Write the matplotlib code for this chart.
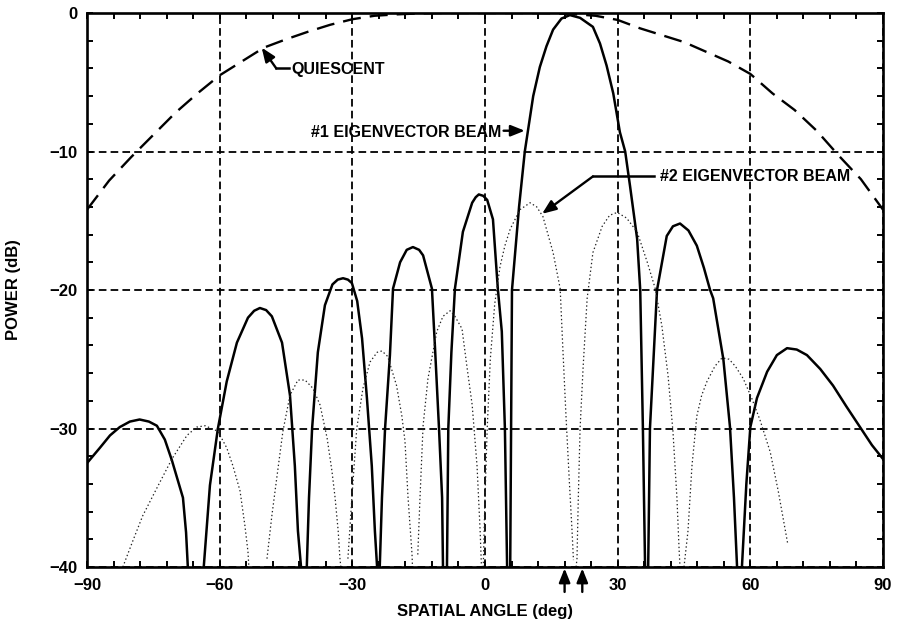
"""Adapted array power patterns: quiescent and eigenvector beams."""

import matplotlib

matplotlib.use("Agg")

import matplotlib.pyplot as plt
import numpy as np

NAN = float("nan")

# quiescent pattern (dashed)
QUIET_ANGLE = [-90, -85, -80, -75, -70, -65, -60, -55, -50, -45, -40, -35, -30, -25,
               -20, -15, -10, -5, 0, 5, 10, 15, 20, 25, 30, 35, 40, 45, 50, 55, 60,
               65, 70, 75, 80, 85, 90]
QUIET_DB = [-14.2, -12.1, -10.4, -8.8, -7.2, -5.8, -4.5, -3.5, -2.5, -1.9, -1.35, -0.85,
            -0.45, -0.2, -0.1, -0.03, 0.0, 0.0, 0.0, 0.0, 0.0, -0.02, -0.08, -0.2, -0.5,
            -1.1, -1.6, -2.1, -2.8, -3.5, -4.4, -5.8, -7.0, -8.5, -10.3, -12.0, -14.2]

# #1 eigenvector beam (solid), lobes separated by NaN
BEAM1_ANGLE = [
    -90, -87.1, -84.8, -82.6, -80.3, -78.1, -76.0, -74.2, -72.4, -70.8, -69.4, -68.3, -67.6, -67.2, NAN,
    -63.6, -62.2, -60.4, -58.4, -56.1, -53.6, -52.2, -50.9, -49.5, -48.2, -45.9, -44.1, -43.0, -42.3, -41.6, NAN,
    -40.3, -39.8, -39.1, -37.8, -36.2, -34.5, -33.3, -32.1, -31.0, -30.1, -28.9, -27.8, -26.7, -25.6, -24.9,
    -24.4, NAN,
    -23.8, -23.3, -22.6, -21.5, -20.8, -19.2, -17.7, -16.3, -14.9, -14.0, -12.0, -11.3, -10.4, -9.7, -9.5, NAN,
    -8.6, -8.3, -7.6, -6.8, -5.0, -2.9, -2.1, -1.4, -0.4, 0.5, 1.8, 2.9, 3.8, 4.5, 5.0, NAN,
    5.7, 5.9, 6.1, 7.7, 9.0, 10.9, 12.4, 13.9, 15.4, 17.3, 19.2, 21.5, 24.4, 26.0, 27.5, 29.0, 30.5, 31.7,
    32.8, 34.4, 35.1, 35.7, 36.2, NAN,
    36.9, 37.3, 38.9, 41.1, 42.5, 44.1, 46.0, 47.9, 49.5, 50.9, 51.6, 53.9, 55.4, 56.3, 57.0, NAN,
    58.1, 59.1, 60.0, 61.5, 63.8, 66.0, 68.3, 70.5, 72.8, 75.8, 78.7, 81.7, 84.8, 87.5, 90,
]
BEAM1_DB = [
    -32.5, -31.4, -30.5, -29.9, -29.5, -29.35, -29.5, -29.8, -30.8, -32.3, -33.8, -35.0, -37.5, -40, NAN,
    -40, -34.1, -30.0, -26.6, -23.8, -22.0, -21.5, -21.3, -21.45, -21.9, -23.8, -27.6, -32.7, -37.4, -40, NAN,
    -40, -35.0, -30.0, -24.5, -21.1, -19.6, -19.25, -19.15, -19.25, -19.5, -20.8, -23.5, -27.8, -32.7, -37.4,
    -40, NAN,
    -40, -35.0, -30.0, -24.7, -19.9, -18.0, -17.1, -16.9, -17.1, -17.5, -19.9, -24.2, -30.0, -35.0, -40, NAN,
    -40, -30.0, -24.5, -19.9, -15.8, -13.7, -13.3, -13.1, -13.2, -13.5, -14.9, -19.9, -23.0, -30.0, -40, NAN,
    -40, -30.0, -20.0, -14.0, -10.0, -6.0, -3.9, -2.4, -1.2, -0.4, -0.15, -0.35, -1.0, -2.2, -3.8, -5.8, -8.6,
    -10.0, -12.5, -16.3, -20.0, -29.9, -40, NAN,
    -40, -30.0, -20.0, -16.1, -15.4, -15.2, -15.7, -16.8, -18.4, -20.0, -20.6, -25.0, -29.9, -35.0, -40, NAN,
    -40, -34.0, -29.9, -27.8, -25.9, -24.7, -24.2, -24.3, -24.7, -25.7, -26.9, -28.4, -29.9, -31.2, -32.2,
]

# #2 eigenvector beam (dotted)
BEAM2_ANGLE = [
    -81.9, -79.5, -77.4, -74.2, -70.8, -67.4, -65.2, -63.3, -60.4, -58.4, -57.0, -55.4, -54.3, -53.6, -53.4, NAN,
    -49.3, -48.2, -47.1, -45.7, -44.1, -42.3, -40.7, -38.9, -37.3, -35.7, -34.6, -33.9, -33.2, -32.8, -32.6, NAN,
    -31.0, -30.1, -29.0, -27.6, -26.0, -24.4, -23.3, -22.0, -20.0, -18.8, -18.1, -17.4, -16.5, -16.4, NAN,
    -15.2, -14.7, -14.0, -12.9, -10.9, -9.5, -7.9, -6.8, -5.2, -4.1, -2.9, -1.8, -1.1, -0.8, NAN,
    -0.4, 0.0, 0.5, 1.2, 2.2, 3.4, 4.5, 5.7, 7.9, 10.2, 11.7, 13.1, 15.4, 17.0, 17.6, 18.3, 19.1, 19.7, 20.0, NAN,
    20.6, 20.8, 21.1, 21.5, 22.2, 23.1, 24.4, 26.5, 28.2, 29.9, 32.0, 34.4, 36.7, 38.5, 40.0, 41.4, 42.5,
    43.4, 43.9, 44.1, NAN,
    45.0, 45.9, 46.8, 47.9, 49.0, 50.2, 52.0, 53.6, 55.2, 56.6, 58.4, 60.3, 62.2, 64.5, 66.3, 68.5,
]
BEAM2_DB = [
    -40, -38.0, -36.3, -34.3, -32.2, -30.5, -29.9, -29.8, -30.2, -31.4, -32.7, -34.5, -37.0, -38.9, -40, NAN,
    -39.4, -36.3, -33.6, -30.2, -27.6, -26.5, -26.5, -27.1, -28.3, -30.7, -33.1, -35.0, -37.4, -39.4, -40, NAN,
    -39.4, -35.0, -30.0, -27.1, -25.2, -24.5, -24.4, -24.8, -26.9, -29.1, -30.9, -35.0, -39.1, -40, NAN,
    -39.1, -35.0, -29.8, -26.4, -23.0, -21.9, -21.5, -21.9, -22.8, -25.5, -28.3, -32.7, -37.4, -40, NAN,
    -40, -35.0, -30.0, -25.0, -21.0, -18.3, -16.8, -15.6, -14.2, -13.7, -14.0, -14.7, -17.3, -19.9, -24.2,
    -29.0, -34.0, -37.5, -39.5, NAN,
    -40, -39.4, -35.0, -30.0, -25.5, -20.6, -17.3, -15.4, -14.6, -14.4, -14.8, -15.8, -18.0, -19.9, -22.6,
    -26.2, -30.2, -35.0, -38.8, -40, NAN,
    -40, -37.4, -32.7, -29.1, -27.6, -26.6, -25.5, -24.9, -25.0, -25.5, -26.4, -27.8, -29.4, -31.7, -34.5, -38.4,
]

# angles marked by arrows under the axis
MARKED_ANGLES = [18, 22]

X_TICKS = [-90, -60, -30, 0, 30, 60, 90]
Y_TICKS = [-40, -30, -20, -10, 0]


def main() -> None:
    plt.rcParams["font.family"] = ["Liberation Sans", "DejaVu Sans"]
    plt.rcParams["font.weight"] = "bold"
    plt.rcParams["font.size"] = 12
    plt.rcParams["lines.scale_dashes"] = False

    fig = plt.figure(figsize=(8.97, 6.24), dpi=100)
    ax = fig.add_axes([87 / 897, 1 - 567 / 624, 796 / 897, 554 / 624])

    ax.plot(QUIET_ANGLE, QUIET_DB, color="black", lw=1.7, linestyle=(0, (13, 6.5)))
    ax.plot(BEAM1_ANGLE, BEAM1_DB, color="black", lw=1.8, solid_joinstyle="round")
    ax.plot(BEAM2_ANGLE, BEAM2_DB, color="#222222", lw=0.9, linestyle=(0, (1.0, 1.8)))

    ax.set_xlim(-90, 90)
    ax.set_ylim(-40, 0)
    ax.set_xticks(X_TICKS)
    ax.set_yticks(Y_TICKS)
    ax.set_xticks(np.arange(-90, 91, 6), minor=True)
    ax.set_yticks(np.arange(-40, 1, 2), minor=True)
    ax.tick_params(which="both", direction="in", top=True, right=True, color="black",
                   width=1.4, length=4, labelsize=12)
    ax.tick_params(axis="x", pad=8)
    ax.tick_params(axis="y", pad=7)
    ax.grid(True, which="major", color="black", lw=1.3, linestyle=(0, (5.5, 3)))
    for spine in ax.spines.values():
        spine.set_linewidth(1.9)

    ax.set_xlabel("SPATIAL ANGLE (deg)", fontsize=12, fontweight="bold", labelpad=8)
    ax.set_ylabel("POWER (dB)", fontsize=12, fontweight="bold", labelpad=20)

    annotate(ax)

    fig.savefig("out.png", dpi=100)
    plt.close(fig)


def annotate(ax) -> None:
    head = dict(arrowstyle="-|>,head_length=0.7,head_width=0.28", color="black", lw=1.7,
                shrinkA=0, shrinkB=0)

    # QUIESCENT
    ax.text(-43.8, -4.1, "QUIESCENT", ha="left", va="center", fontsize=11.5)
    ax.plot([-44.4, -47.2], [-4.0, -4.0], color="black", lw=1.8)
    ax.annotate("", xy=(-50.5, -2.5), xytext=(-47.2, -4.0), arrowprops=head)

    # #1 eigenvector beam
    ax.text(3.8, -8.6, "#1 EIGENVECTOR BEAM", ha="right", va="center", fontsize=11.5)
    ax.annotate("", xy=(9.0, -8.5), xytext=(4.2, -8.5), arrowprops=head)

    # #2 eigenvector beam
    ax.text(39.6, -11.8, "#2 EIGENVECTOR BEAM", ha="left", va="center", fontsize=11.5)
    ax.plot([38.2, 24.4], [-11.8, -11.8], color="black", lw=1.8)
    ax.annotate("", xy=(12.9, -14.5), xytext=(24.4, -11.8), arrowprops=head)

    for angle in MARKED_ANGLES:
        ax.annotate("", xy=(angle, -40.1), xytext=(angle, -41.8), arrowprops=head,
                    annotation_clip=False)


if __name__ == "__main__":
    main()
